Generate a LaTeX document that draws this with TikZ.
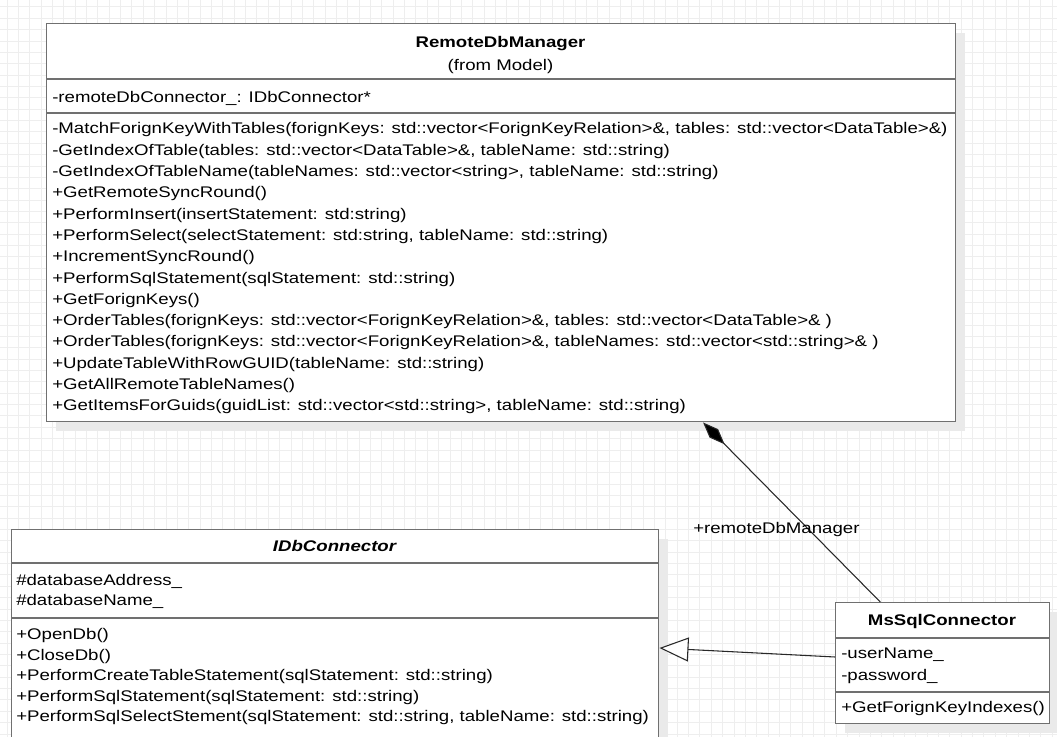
\documentclass[tikz,border=0pt]{standalone}
\usepackage{fontspec}
\setmainfont{Liberation Sans}[FakeStretch=1.21]
\usetikzlibrary{arrows.meta,calc,shadows}

\definecolor{gridline}{RGB}{238,238,238}
\definecolor{boxline}{RGB}{112,112,112}
\definecolor{shade}{RGB}{234,234,234}
\definecolor{linkline}{RGB}{40,40,40}

\begin{document}
\begin{tikzpicture}[x=0.75pt,y=-0.75pt,
  umltext/.style={font=\fontsize{11.55}{14}\selectfont, inner sep=0pt, anchor=base west},
  umltitle/.style={font=\fontsize{11.55}{14}\selectfont\bfseries, inner sep=0pt, anchor=base},
  classbox/.style={draw=boxline, line width=1.1pt, fill=white, rectangle, inner sep=0pt,
    anchor=north west,
    drop shadow={shadow xshift=6.75pt, shadow yshift=-6.75pt, fill=shade, opacity=1}},
  divider/.style={draw=boxline, line width=1.1pt},
  link/.style={draw=linkline, line width=0.8pt}]

\useasboundingbox (0,0) rectangle (1057,737);
\fill[white] (0,0) rectangle (1057,737);

% background grid
\foreach \k in {0,...,92}
  \draw[gridline, line width=0.75pt] (7+\k*11.36,0) -- (7+\k*11.36,737);
\foreach \k in {0,...,64}
  \draw[gridline, line width=0.75pt] (0,7+\k*11.36) -- (1057,7+\k*11.36);

% ---------- RemoteDbManager ----------
\node[classbox, minimum width=681.75pt, minimum height=298.5pt] (mgr) at (46,23) {};
\draw[divider] (mgr.west |- 0,79) -- (mgr.east |- 0,79);
\draw[divider] (mgr.west |- 0,113) -- (mgr.east |- 0,113);
\node[umltitle] (mgrname) at (500.5,47.5) {RemoteDbManager};
\node[umltext, anchor=base] (mgrpkg) at (500.5,70.5) {(from Model)};
\node[umltext] (mgrattr) at (52,102.5) {-remoteDbConnector\_: IDbConnector*};
\foreach \t [count=\i from 0] in {
  {-MatchForignKeyWithTables(forignKeys: std::vector<ForignKeyRelation>\&, tables: std::vector<DataTable>\&)},
  {-GetIndexOfTable(tables: std::vector<DataTable>\&, tableName: std::string)},
  {-GetIndexOfTableName(tableNames: std::vector<string>, tableName: std::string)},
  {+GetRemoteSyncRound()},
  {+PerformInsert(insertStatement: std:string)},
  {+PerformSelect(selectStatement: std:string, tableName: std::string)},
  {+IncrementSyncRound()},
  {+PerformSqlStatement(sqlStatement: std::string)},
  {+GetForignKeys()},
  {+OrderTables(forignKeys: std::vector<ForignKeyRelation>\&, tables: std::vector<DataTable>\& )},
  {+OrderTables(forignKeys: std::vector<ForignKeyRelation>\&, tableNames: std::vector<std::string>\& )},
  {+UpdateTableWithRowGUID(tableName: std::string)},
  {+GetAllRemoteTableNames()},
  {+GetItemsForGuids(guidList: std::vector<std::string>, tableName: std::string)}}
  \node[umltext] (mgrop\i) at (52,134+\i*21.3) {\t};

% ---------- IDbConnector ----------
\node[classbox, minimum width=485.25pt, minimum height=210pt] (idb) at (11,529) {};
\draw[divider] (idb.west |- 0,563) -- (idb.east |- 0,563);
\draw[divider] (idb.west |- 0,618) -- (idb.east |- 0,618);
\node[umltitle, font=\fontsize{11.55}{14}\selectfont\bfseries\itshape] (idbname) at (334.5,551.5) {IDbConnector};
\node[umltext] (idbattr0) at (16,585.5) {\#databaseAddress\_};
\node[umltext] (idbattr1) at (16,605.5) {\#databaseName\_};
\foreach \t [count=\i from 0] in {
  {+OpenDb()},
  {+CloseDb()},
  {+PerformCreateTableStatement(sqlStatement: std::string)},
  {+PerformSqlStatement(sqlStatement: std::string)},
  {+PerformSqlSelectStement(sqlStatement: std::string, tableName: std::string)}}
  \node[umltext] (idbop\i) at (16,639.5+\i*20.5) {\t};

% ---------- MsSqlConnector ----------
\node[classbox, minimum width=160.5pt, minimum height=90.75pt] (mssql) at (835,602) {};
\draw[divider] (mssql.west |- 0,638) -- (mssql.east |- 0,638);
\draw[divider] (mssql.west |- 0,692) -- (mssql.east |- 0,692);
\node[umltitle] (mssqlname) at (942,625) {MsSqlConnector};
\node[umltext] (mssqlattr0) at (841,658.5) {-userName\_};
\node[umltext] (mssqlattr1) at (841,680.5) {-password\_};
\node[umltext] (mssqlop0) at (841,712.5) {+GetForignKeyIndexes()};

% ---------- relations ----------
% composition: RemoteDbManager owns the MsSqlConnector
\draw[link, {Diamond[length=23pt,width=9pt,fill=black]}-]
  ($(mgr.south west)!0.7217!(mgr.south east)$) -- ($(mssql.north west)!0.21!(mssql.north east)$);
\node[umltext] (rolelbl) at (693,533.5) {+remoteDbManager};

% generalization: MsSqlConnector realises IDbConnector
\draw[link, -{Triangle[open,length=21.75pt,width=18pt,fill=white]}]
  ($(mssql.north west)+(0,55)$) -- ($(idb.north east)+(0,119)$);
\end{tikzpicture}
\end{document}
